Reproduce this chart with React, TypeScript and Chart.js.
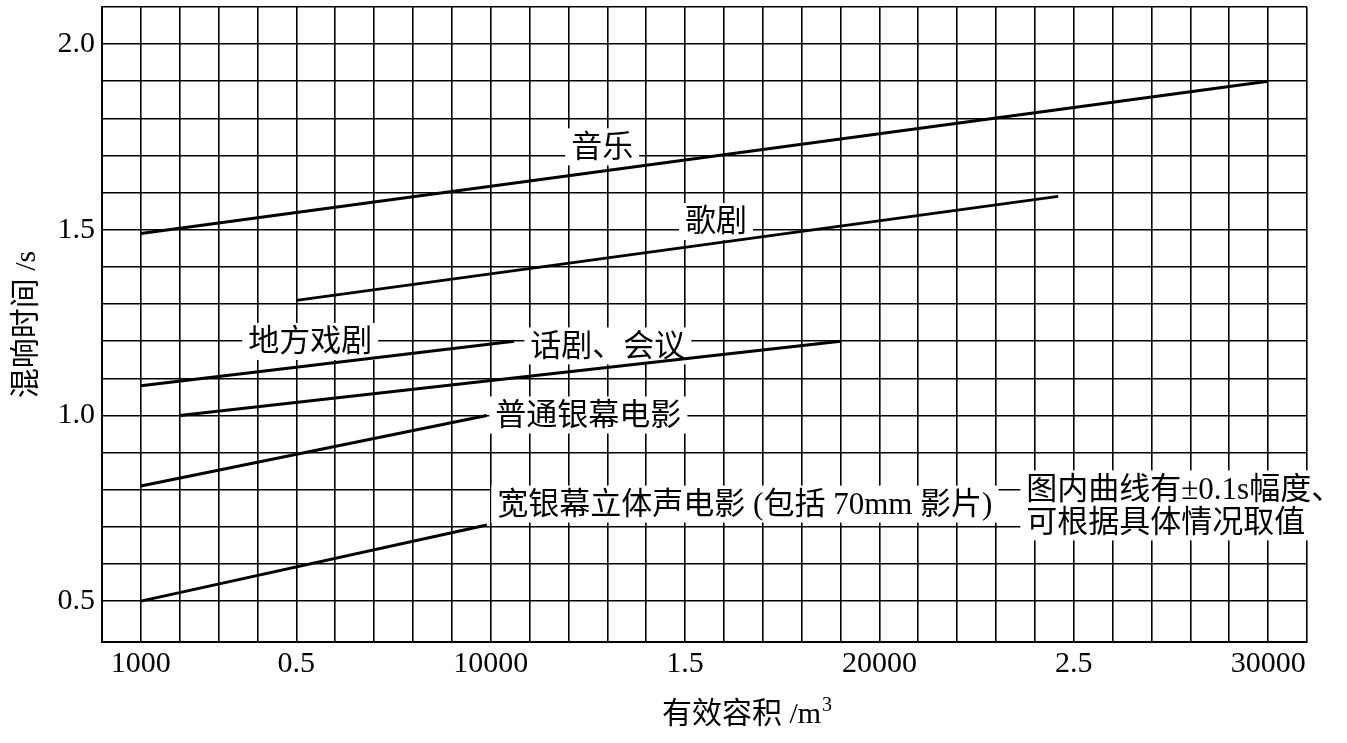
import React, { useEffect, useRef } from "react";
import { Chart, registerables } from "chart.js";

Chart.register(...registerables);

// ---- data ----
const seriesNames = ["音乐", "歌剧", "地方戏剧", "话剧、会议", "普通银幕电影", "宽银幕立体声电影"];
const musicX = [1000, 30000];
const musicY = [1.49, 1.9];
const operaX = [5000, 24600];
const operaY = [1.31, 1.59];
const localOperaX = [1000, 10600];
const localOperaY = [1.08, 1.2];
const dramaX = [2000, 19000];
const dramaY = [1.0, 1.2];
const cinemaX = [1000, 9900];
const cinemaY = [0.81, 1.0];
const wideCinemaX = [1000, 9900];
const wideCinemaY = [0.5, 0.705];

const xTickValues = [1000, 5000, 10000, 15000, 20000, 25000, 30000];
const xTickLabels = ["1000", "0.5", "10000", "1.5", "20000", "2.5", "30000"];
const yTickValues = [0.5, 1.0, 1.5, 2.0];
const yTickLabels = ["0.5", "1.0", "1.5", "2.0"];

const xTitle = "有效容积 /m";
const xTitleSup = "3";
const yTitle = "混响时间 /s";

// label text and anchor (left x in data units, line centre y in data units)
const labelTexts = [
  ["音乐"],
  ["歌剧"],
  ["地方戏剧"],
  ["话剧、会议"],
  ["普通银幕电影"],
  ["宽银幕立体声电影 (包括 70mm 影片)"],
  ["图内曲线有±0.1s幅度、", "可根据具体情况取值"],
];
const labelX = [12070, 15000, 3760, 11020, 10120, 10170, 23780];
const labelY = [[1.722], [1.521], [1.198], [1.186], [1.0], [0.76], [0.801, 0.712]];

const LABEL_FONT = '31px "Liberation Serif", "Noto Sans CJK SC"';

function pairs(xs: number[], ys: number[]) {
  return xs.map((x, i) => ({ x, y: ys[i] }));
}

const labelPlugin = {
  id: "curveLabels",
  beforeDatasetsDraw(chart: any) {
    const { ctx, scales } = chart;
    const xs = scales.x;
    const ys = scales.y;
    ctx.save();
    ctx.font = LABEL_FONT;
    ctx.fillStyle = "#ffffff";
    labelTexts.forEach((lines, i) => {
      const left = xs.getPixelForValue(labelX[i]);
      const w = Math.max(...lines.map((l) => ctx.measureText(l).width));
      const top = ys.getPixelForValue(labelY[i][0]);
      const bottom = ys.getPixelForValue(labelY[i][labelY[i].length - 1]);
      ctx.fillRect(left - 6, top - 19, w + 12, bottom - top + 37);
    });
    ctx.restore();
  },
  afterDatasetsDraw(chart: any) {
    const { ctx, scales } = chart;
    const xs = scales.x;
    const ys = scales.y;
    ctx.save();
    ctx.font = LABEL_FONT;
    ctx.fillStyle = "#000000";
    ctx.textAlign = "left";
    ctx.textBaseline = "middle";
    labelTexts.forEach((lines, i) => {
      const left = xs.getPixelForValue(labelX[i]);
      lines.forEach((l, j) => {
        ctx.fillText(l, left, ys.getPixelForValue(labelY[i][j]) + 1);
      });
    });
    ctx.restore();
  },
  afterDraw(chart: any) {
    const { ctx, chartArea } = chart;
    ctx.save();
    ctx.fillStyle = "#000000";
    // y title
    ctx.font = '30px "Liberation Serif", "Noto Sans CJK SC"';
    ctx.textAlign = "center";
    ctx.textBaseline = "middle";
    ctx.translate(27, (chartArea.top + chartArea.bottom) / 2);
    ctx.rotate(-Math.PI / 2);
    ctx.fillText(yTitle, 0, 0);
    ctx.restore();

    ctx.save();
    ctx.fillStyle = "#000000";
    ctx.textBaseline = "middle";
    ctx.textAlign = "left";
    ctx.font = '30px "Liberation Serif", "Noto Sans CJK SC"';
    const w1 = ctx.measureText(xTitle).width;
    ctx.font = '20px "Liberation Serif"';
    const w2 = ctx.measureText(xTitleSup).width;
    const cx = (chartArea.left + chartArea.right) / 2 + 42;
    const start = cx - (w1 + w2) / 2;
    const ty = chartArea.bottom + 73;
    ctx.font = '30px "Liberation Serif", "Noto Sans CJK SC"';
    ctx.fillText(xTitle, start, ty);
    ctx.font = '20px "Liberation Serif"';
    ctx.fillText(xTitleSup, start + w1 + 1, ty - 9);
    ctx.restore();
  },
};

export default function App() {
  const ref = useRef<HTMLCanvasElement | null>(null);
  useEffect(() => {
    if (!ref.current) return;
    const black = "#000000";
    const xsArr = [musicX, operaX, localOperaX, dramaX, cinemaX, wideCinemaX];
    const ysArr = [musicY, operaY, localOperaY, dramaY, cinemaY, wideCinemaY];
    const chart = new Chart(ref.current, {
      type: "line",
      data: {
        datasets: seriesNames.map((name, i) => ({
          label: name,
          data: pairs(xsArr[i], ysArr[i]),
          borderColor: black,
          borderWidth: 3,
          pointRadius: 0,
          fill: false,
          tension: 0,
        })),
      },
      options: {
        animation: false,
        responsive: false,
        devicePixelRatio: 1,
        layout: { padding: { top: 7, right: 40, left: 0, bottom: 0 } },
        plugins: {
          legend: { display: false },
          tooltip: { enabled: false },
          title: { display: false },
        },
        scales: {
          x: {
            type: "linear",
            min: 0,
            max: 31000,
            afterFit: (s: any) => {
              s.height = 101;
              s.paddingLeft = 0;
              s.paddingRight = 0;
            },
            grid: { color: black, lineWidth: 1.6, drawTicks: false },
            border: { color: black, width: 2 },
            ticks: {
              stepSize: 1000,
              autoSkip: false,
              maxRotation: 0,
              minRotation: 0,
              padding: 4,
              color: black,
              font: { family: '"Liberation Serif"', size: 30 },
              callback: (v: any) => {
                const idx = xTickValues.findIndex((t) => Math.abs(t - Number(v)) < 1);
                return idx >= 0 ? xTickLabels[idx] : "";
              },
            },
          },
          y: {
            type: "linear",
            min: 0.39,
            max: 2.1,
            afterFit: (s: any) => {
              s.width = 102;
              s.paddingTop = 0;
              s.paddingBottom = 0;
            },
            grid: { color: black, lineWidth: 1.6, drawTicks: false },
            border: { color: black, width: 2 },
            ticks: {
              stepSize: 0.1,
              autoSkip: false,
              padding: 7,
              color: black,
              font: { family: '"Liberation Serif"', size: 30 },
              callback: (v: any) => {
                const idx = yTickValues.findIndex((t) => Math.abs(t - Number(v)) < 1e-6);
                return idx >= 0 ? yTickLabels[idx] : "";
              },
            },
          },
        },
      },
      plugins: [labelPlugin],
    });
    return () => chart.destroy();
  }, []);
  return (
    <div style={{ position: "fixed", left: 0, top: 0, width: 1347, height: 743, background: "#fff" }}>
      <canvas ref={ref} width={1347} height={743} style={{ display: "block" }} />
    </div>
  );
}
